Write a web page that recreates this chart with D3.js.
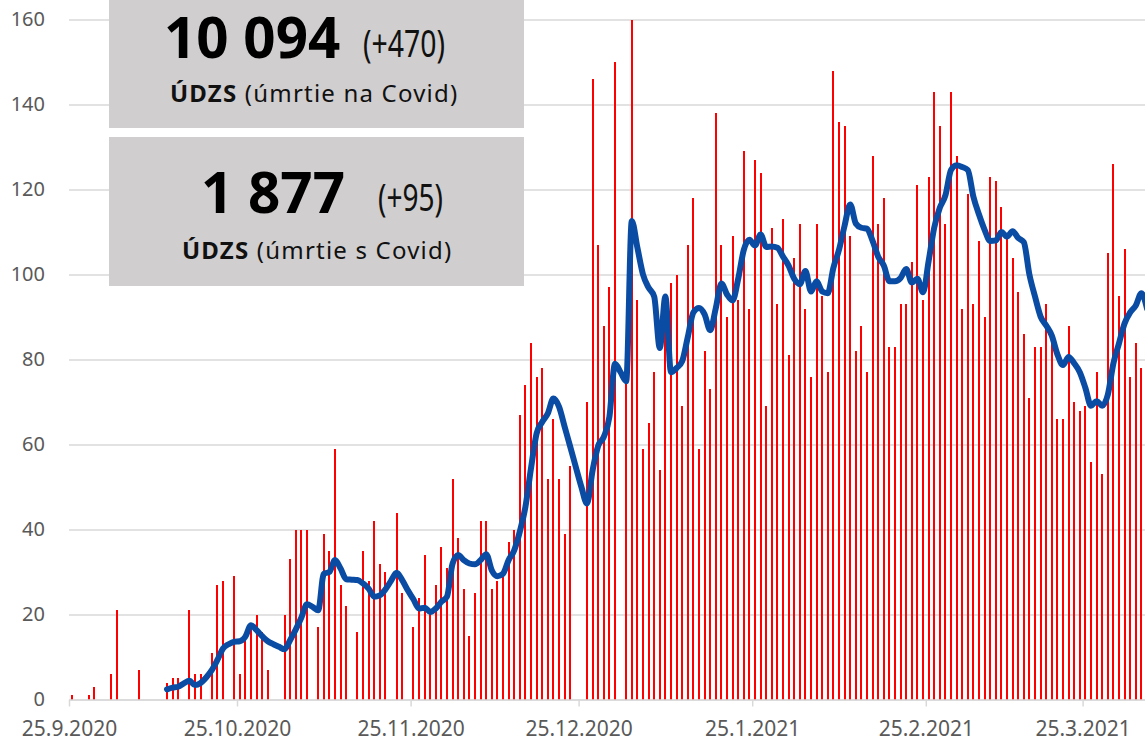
<!DOCTYPE html>
<html>
<head>
<meta charset="utf-8">
<script src="https://cdn.jsdelivr.net/npm/d3@7"></script>
<style>
  body { margin: 0; background: #fff; }
  svg { display: block; font-family: "Noto Sans", sans-serif; }
</style>
</head>
<body>
<div id="chart"></div>
<script>
// daily deaths (na Covid), one value per day starting at firstDay
var firstDay = "2020-09-25";
var deaths = [1,0,0,1,3,0,0,6,21,0,
  0,0,7,0,0,0,0,4,5,5,
  0,21,6,6,0,11,27,28,0,29,
  6,14,17,20,16,7,0,0,20,33,
  40,40,40,0,17,39,35,59,27,22,
  0,16,35,28,42,32,30,0,44,25,
  0,17,24,34,21,27,36,31,52,38,
  26,15,25,42,42,26,28,30,37,40,
  67,74,84,76,78,52,66,52,39,55,
  0,0,70,146,107,88,97,150,0,75,
  160,94,59,65,77,54,95,98,100,69,
  107,118,59,82,73,138,107,90,109,94,
  129,92,127,124,69,111,93,113,81,104,
  112,92,76,112,95,77,148,136,135,109,
  82,88,77,128,112,118,83,83,93,93,
  103,121,94,123,143,135,112,143,128,92,
  119,93,108,90,123,122,116,109,104,96,
  86,71,83,83,93,85,66,66,88,70,
  68,69,56,77,53,105,126,95,106,76,
  84,78];

// 7-day average line, null where it is not drawn
var avg7 = [null,null,null,null,null,null,null,null,null,null,
  null,null,null,null,null,null,null,2.4,2.8,3.0,
  3.8,4.4,3.4,3.9,5.2,6.9,9.3,12,13,13.6,
  13.7,14.8,17.5,16.3,14.9,13.7,13,12.4,11.8,14,
  16.5,19.3,22.4,21.8,21,29.6,30,32.8,30.8,28.3,
  28.2,28.1,27.3,26.1,24.2,24.5,25.9,27.9,29.8,28.1,
  25.7,23.6,21.4,21.6,20.6,21.4,23,24.2,32,34,
  32.8,32,31.8,32.8,34.2,30.4,29,29.6,32.8,35.1,
  39.5,45.3,54.4,62.6,65.3,67.3,70.8,68.9,64.2,59.5,
  54.7,50,46.1,53.9,59.7,61.8,66.5,79,77,74.9,
  112.6,106.3,100,96.9,94.8,82.7,94.8,77,78,79.6,
  85.3,91.1,92.1,90.6,86.9,92.1,97.9,95.3,93.9,99,
  105.8,108.2,106.8,109.4,106.5,106.6,106.3,104.2,102.1,99,
  97.7,100.8,96,98.4,96,95.6,101.6,105.8,111.5,116.5,
  112,111,110.8,107.9,104.2,102.1,98.4,98.4,99.2,101.3,
  98.1,99,95.8,103.1,111,115.7,118.6,124.6,125.7,125.3,
  124.6,118.3,114.1,110.5,107.9,108,110,108.9,110.2,108.6,
  107.6,100,94.8,90.1,88,85.6,81.2,78.7,80.6,79.1,
  77,73.3,69.1,70.2,69.1,71.7,79.1,83.8,88.5,91.1,
  92.7,95.6,92];

var yTicks = [0, 20, 40, 60, 80, 100, 120, 140, 160];
var tickLabels = ["25.9.2020", "25.10.2020", "25.11.2020", "25.12.2020",
                  "25.1.2021", "25.2.2021", "25.3.2021"];

var boxNumbers = ["10 094", "1 877"];
var boxDeltas = ["(+470)", "(+95)"];
var boxLabels = ["(úmrtie na Covid)", "(úmrtie s Covid)"];

var width = 1145, height = 742,
    left = 69,
    dayWidth = 5.6,
    nDays = 200;

var parseDay = d3.utcParse("%Y-%m-%d"),
    parseTick = d3.utcParse("%d.%m.%Y");
var start = parseDay(firstDay);
var dayOf = function(i) { return d3.utcDay.offset(start, i); };
var tickDates = tickLabels.map(function(d) { return parseTick(d); });

var x = d3.scaleUtc()
    .domain([start, dayOf(nDays)])
    .range([left, left + nDays * dayWidth]);

var y = d3.scaleLinear()
    .domain([0, 160])
    .range([699.5, 19.5]);

var svg = d3.select("#chart").append("svg")
    .attr("width", width)
    .attr("height", height);

// gridlines + y labels
var yAxis = d3.axisLeft(y)
    .tickValues(yTicks)
    .tickSize(-(width - left))
    .tickPadding(24);

var gy = svg.append("g")
    .attr("transform", "translate(" + left + ",0)")
    .call(yAxis);
gy.select(".domain").remove();
gy.selectAll(".tick line")
    .attr("stroke", "#d9d9d9")
    .attr("stroke-width", 1.5);
gy.selectAll(".tick text")
    .attr("fill", "#595959")
    .style("font-size", "20px")
    .style("font-family", "'Noto Sans', sans-serif");

// bars
svg.append("g")
  .selectAll("rect")
    .data(deaths)
  .enter().append("rect")
    .attr("x", function(d, i) { return x(dayOf(i)) + dayWidth / 2 - 1; })
    .attr("y", function(d) { return y(d); })
    .attr("width", 2)
    .attr("height", function(d) { return y(0) - y(d); })
    .attr("fill", "#ff0000")
    .attr("shape-rendering", "crispEdges");

// average line
var line = d3.line()
    .defined(function(d) { return d != null; })
    .x(function(d, i) { return x(dayOf(i)) + dayWidth / 2; })
    .y(function(d) { return y(d); })
    .curve(d3.curveMonotoneX);

svg.append("path")
    .datum(avg7)
    .attr("d", line)
    .attr("fill", "none")
    .attr("stroke", "#0a4ca3")
    .attr("stroke-width", 6)
    .attr("stroke-linejoin", "round")
    .attr("stroke-linecap", "round");

// x axis
var xAxis = d3.axisBottom(x)
    .tickValues(tickDates)
    .tickSize(7)
    .tickSizeOuter(0)
    .tickPadding(15)
    .tickFormat(function(d, i) { return tickLabels[i]; });

var gx = svg.append("g")
    .attr("transform", "translate(0," + y(0) + ")")
    .call(xAxis);
gx.select(".domain")
    .attr("stroke", "#d9d9d9")
    .attr("stroke-width", 1.5);
gx.selectAll(".tick line")
    .attr("stroke", "#d9d9d9")
    .attr("stroke-width", 1.5);
gx.selectAll(".tick text")
    .attr("fill", "#595959")
    .style("font-size", "21px")
    .style("font-family", "'Noto Sans', sans-serif");

// info boxes
var boxes = [
  {y: -2, h: 130, num: {x: 164, y: 58}, delta: {x: 363, y: 57, w: 82}, label: {x: 170, y: 102}},
  {y: 137, h: 149, num: {x: 201, y: 213}, delta: {x: 378, y: 211, w: 65}, label: {x: 182, y: 259}}
];

boxes.forEach(function(b, i) {
  var g = svg.append("g");
  g.append("rect")
      .attr("x", 109)
      .attr("y", b.y)
      .attr("width", 415)
      .attr("height", b.h)
      .attr("fill", "#d0cece");

  g.append("text")
      .attr("x", b.num.x)
      .attr("y", b.num.y)
      .style("font-size", "56.5px")
      .style("font-weight", "bold")
      .attr("fill", "#000")
      .text(boxNumbers[i]);

  g.append("text")
      .attr("x", b.delta.x)
      .attr("y", b.delta.y)
      .attr("textLength", b.delta.w)
      .attr("lengthAdjust", "spacingAndGlyphs")
      .style("font-size", "39px")
      .attr("fill", "#111")
      .text(boxDeltas[i]);

  var t = g.append("text")
      .attr("x", b.label.x)
      .attr("y", b.label.y)
      .style("font-size", "24px")
      .style("letter-spacing", "1.2px")
      .attr("fill", "#111");
  t.append("tspan")
      .style("font-weight", "bold")
      .text("ÚDZS");
  t.append("tspan")
      .text(" " + boxLabels[i]);
});
</script>
</body>
</html>
